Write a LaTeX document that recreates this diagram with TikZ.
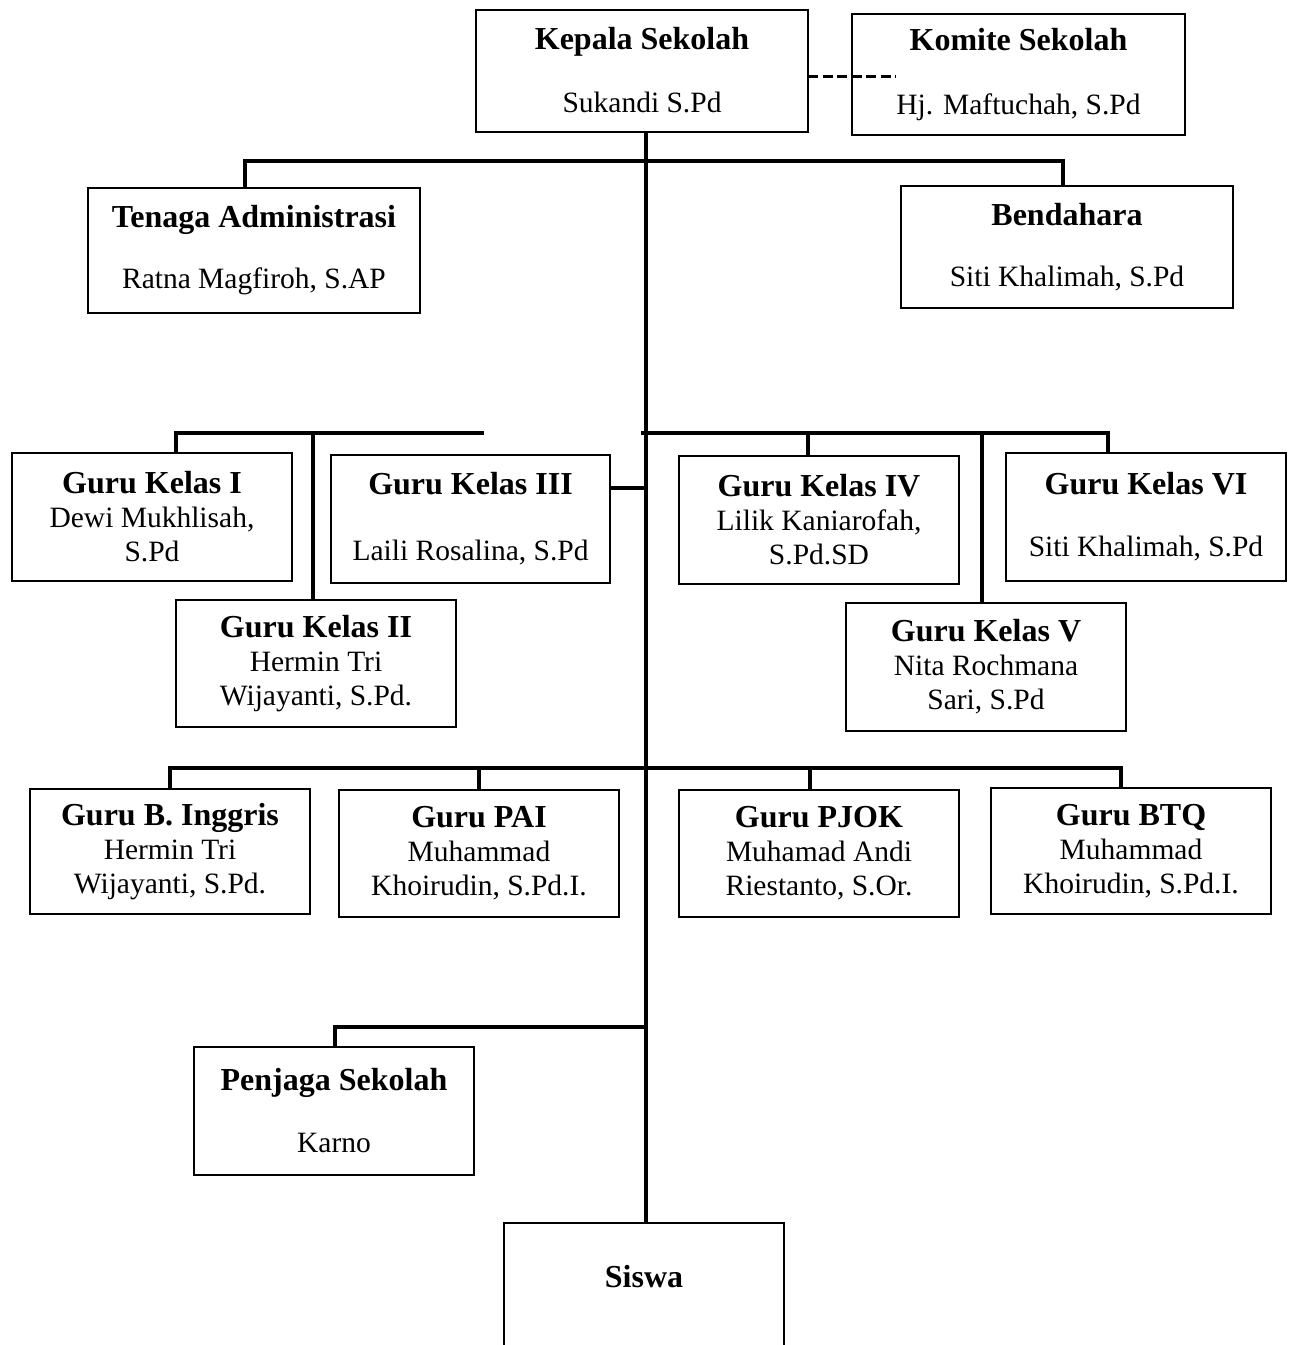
\documentclass[tikz,border=0pt]{standalone}
\usepackage{fontspec}
\setmainfont{Liberation Serif}
\newcommand\hd[1]{{\fontsize{32}{34}\selectfont\bfseries #1}}
\begin{document}
\begin{tikzpicture}[x=1pt,y=-1pt,
  box/.style={draw, line width=2.4pt, inner sep=0pt, align=center,
    font=\fontsize{29.5}{34}\selectfont},
  conn/.style={line width=4pt, line join=miter},
  every node/.style={outer sep=0pt}]
\useasboundingbox (0,0) rectangle (1290,1345);
\coordinate (tx) at (646,0);

% boxes
\node[box, minimum width=332, minimum height=122, text depth=2pt] (kepala) at (642,71)
  {\hd{Kepala Sekolah}\\[29pt]Sukandi S.Pd};
\node[box, minimum width=333, minimum height=121] (komite) at (1018.5,74.5)
  {\hd{Komite Sekolah}\\[30pt]Hj. Maftuchah, S.Pd};
\node[box, minimum width=332, minimum height=125] (tenaga) at (254,250.5)
  {\hd{Tenaga Administrasi}\\[27pt]Ratna Magfiroh, S.AP};
\node[box, minimum width=332, minimum height=122] (bendahara) at (1067,247)
  {\hd{Bendahara}\\[27pt]Siti Khalimah, S.Pd};

\node[box, minimum width=280, minimum height=128] (gk1) at (152,517)
  {\hd{Guru Kelas I}\\Dewi Mukhlisah,\\S.Pd};
\node[box, minimum width=279, minimum height=128] (gk3) at (470.5,519)
  {\hd{Guru Kelas III}\\[32pt]Laili Rosalina, S.Pd};
\node[box, minimum width=280, minimum height=127] (gk2) at (316,663.5)
  {\hd{Guru Kelas II}\\Hermin Tri\\Wijayanti, S.Pd.};
\node[box, minimum width=280, minimum height=128] (gk4) at (819,520)
  {\hd{Guru Kelas IV}\\Lilik Kaniarofah,\\S.Pd.SD};
\node[box, minimum width=280, minimum height=128] (gk6) at (1146,517)
  {\hd{Guru Kelas VI}\\[28pt]Siti Khalimah, S.Pd};
\node[box, minimum width=280, minimum height=128] (gk5) at (986,667)
  {\hd{Guru Kelas V}\\Nita Rochmana\\Sari, S.Pd};

\node[box, minimum width=280, minimum height=125] (bing) at (170,851.5)
  {\hd{Guru B. Inggris}\\Hermin Tri\\Wijayanti, S.Pd.};
\node[box, minimum width=280, minimum height=127] (pai) at (479,853.5)
  {\hd{Guru PAI}\\Muhammad\\Khoirudin, S.Pd.I.};
\node[box, minimum width=280, minimum height=127] (pjok) at (819,853.5)
  {\hd{Guru PJOK}\\Muhamad Andi\\Riestanto, S.Or.};
\node[box, minimum width=280, minimum height=126] (btq) at (1131,851)
  {\hd{Guru BTQ}\\Muhammad\\Khoirudin, S.Pd.I.};

\node[box, minimum width=280, minimum height=128] (penjaga) at (334,1111)
  {\hd{Penjaga Sekolah}\\[28pt]Karno};

\node[box, draw=none, minimum width=280, minimum height=108] (siswa) at (644,1277)
  {\hd{Siswa}};
\draw[line width=2.4pt] ([yshift=-30pt]siswa.south west) -- (siswa.north west)
  -- (siswa.north east) -- ([yshift=-30pt]siswa.south east);

% dashed link
\coordinate (dend) at (896,76);
\draw[line width=3pt, dash pattern=on 10pt off 4.5pt] (kepala.east |- dend) -- (dend);

% trunk
\draw[conn] (kepala.south -| tx) -- (siswa.north -| tx);

% top bar
\coordinate (b1L) at (245,161);
\coordinate (b1R) at (1063,161);
\draw[conn] (tenaga.north -| b1L) -- (b1L) -- (b1R) -- (bendahara.north -| b1R);

% row 2 left
\coordinate (b2a) at (176,433);
\coordinate (b2b) at (484,433);
\coordinate (b2v) at (313,433);
\draw[conn] (gk1.north -| b2a) -- (b2a) -- (b2b);
\draw[conn] (b2v) -- (gk2.north -| b2v);
\coordinate (c3) at (610,488);
\draw[conn] (c3) -- (c3 -| tx);

% row 2 right
\coordinate (b3a) at (641,433);
\coordinate (b3b) at (1108,433);
\coordinate (d4) at (808,433);
\coordinate (d5) at (982,433);
\draw[conn] (b3a) -- (b3b) -- (gk6.north -| b3b);
\draw[conn] (d4) -- (gk4.north -| d4);
\draw[conn] (d5) -- (gk5.north -| d5);

% row 4
\coordinate (r4a) at (170,768);
\coordinate (r4b) at (1121,768);
\coordinate (r4p) at (479,768);
\coordinate (r4j) at (810,768);
\draw[conn] (bing.north -| r4a) -- (r4a) -- (r4b) -- (btq.north -| r4b);
\draw[conn] (r4p) -- (pai.north -| r4p);
\draw[conn] (r4j) -- (pjok.north -| r4j);

% penjaga
\coordinate (pj) at (335,1027);
\draw[conn] (penjaga.north -| pj) -- (pj) -- (pj -| tx);
\end{tikzpicture}
\end{document}
